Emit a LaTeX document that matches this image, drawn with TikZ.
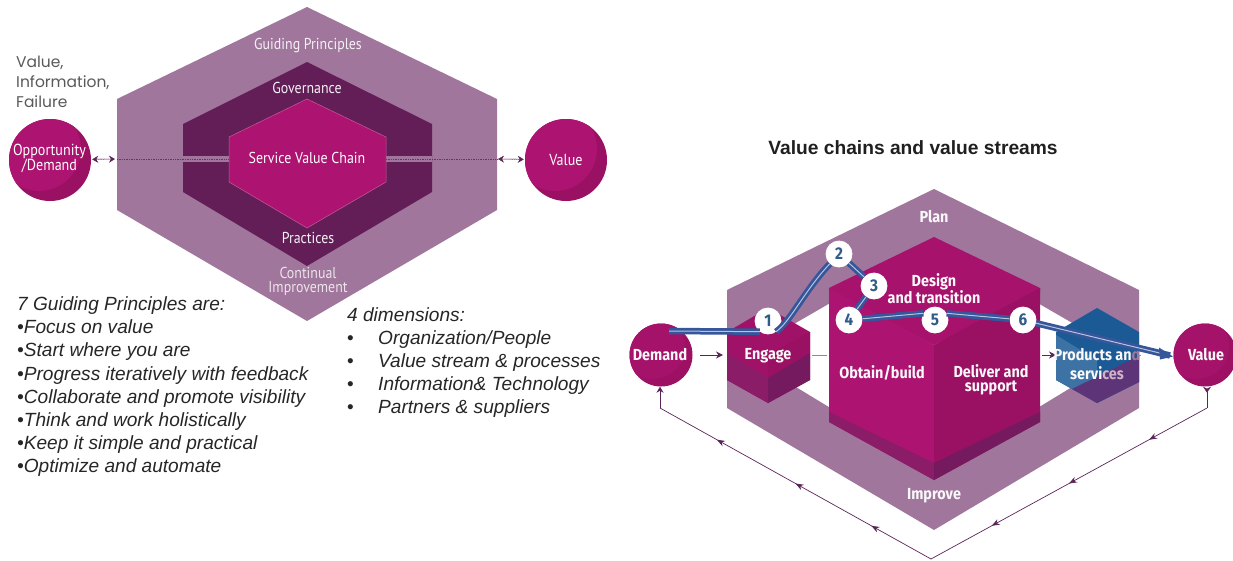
\documentclass[tikz,border=0pt]{standalone}
\usepackage{fontspec}
\setmainfont{Liberation Sans}
\newfontfamily\hexf[FakeStretch=0.88]{PT Sans}
\newfontfamily\grayf{Poppins}
\newfontfamily\boldf[FakeStretch=0.9]{Fira Sans}
\usetikzlibrary{arrows.meta,decorations.markings}
\definecolor{ring}{HTML}{A0769C}
\definecolor{midhex}{HTML}{631E58}
\definecolor{magenta1}{HTML}{AD1370}
\definecolor{magenta2}{HTML}{9A1062}
\definecolor{band1}{HTML}{8A1C68}
\definecolor{band2}{HTML}{761A60}
\definecolor{arrowc}{HTML}{5A2458}
\definecolor{pathblue}{HTML}{35569A}
\definecolor{numblue}{HTML}{2F5C88}
\definecolor{prodblue}{HTML}{1B5A94}
\definecolor{prodpurple}{HTML}{5E3478}
\tikzset{
  hexlabel/.style={text=white!90!ring,font=\hexf\fontsize{15.8}{12.5}\selectfont,align=center,inner sep=0pt},
  boldlabel/.style={text=white!95!ring,font=\boldf\bfseries\fontsize{16}{16}\selectfont,align=center,inner sep=0pt},
  listtext/.style={anchor=base west,inner sep=0pt,font=\itshape\fontsize{19.1}{19}\selectfont,text=black!85},
  bulletmark/.style={anchor=base west,inner sep=0pt,font=\fontsize{19}{19}\selectfont,text=black!85},
  bigcircle/.style={circle,inner sep=0pt,minimum size=#1,fill=magenta2,
    path picture={\fill[magenta1] (path picture bounding box.center) ++(-11,-11) circle (42pt);}},
  smallcircle/.style={circle,inner sep=0pt,minimum size=63pt,fill=magenta2!85!magenta1,
    path picture={\fill[magenta2!40!magenta1] (path picture bounding box.center) ++(-8,-8) circle (32pt);}},
  numcircle/.style={circle,draw=white,line width=0.8pt,fill=white,text=numblue,minimum size=26pt,inner sep=0pt,font=\boldf\bfseries\fontsize{17}{17}\selectfont},
  flowarrow/.style={draw=arrowc,line width=1pt,-{Stealth[length=7pt,width=7pt]}},
  dotband/.style={draw=ring!60!white,line width=1.2pt,densely dotted},
  feedback/.style={draw=arrowc,line width=0.7pt},
  bluepath/.style={draw=pathblue,line width=6.5pt},
  bluecore/.style={draw=white!65!pathblue,line width=1pt},
  biarrow/.style={draw=arrowc,line width=0.6pt,{Stealth[length=6pt,width=7pt]}-{Stealth[length=6pt,width=7pt]}},
}
\begin{document}
\begin{tikzpicture}[x=1pt,y=-1pt]
\useasboundingbox (0,0) rectangle (1233,560);
% ---------- Left diagram ----------
\fill[ring] (307,7) -- (497,99) -- (497,210) -- (307,321) -- (117,210) -- (117,99) -- cycle;
\fill[midhex] (307,62) -- (432,124) -- (432,192) -- (307,266) -- (183,192) -- (183,124) -- cycle;
\fill[ring] (183,155.5) rectangle (432,162);
\draw[fill=magenta1,draw=magenta1!70!white,line width=0.5pt] (307,99) -- (386,137) -- (386,182) -- (307,228) -- (229,182) -- (229,137) -- cycle;
\coordinate (hexL) at (117,159);
\coordinate (hexR) at (497,159);
\coordinate (innerL) at (229,159);
\coordinate (innerR) at (386,159);
\draw[arrowc!80!ring,line width=0.7pt,densely dotted] (hexL) -- (innerL);
\draw[arrowc!80!ring,line width=0.7pt,densely dotted] (innerR) -- (hexR);

\node[bigcircle=82pt] (opp) at (50,160) {};
\node[bigcircle=82pt] (val1) at (566,160) {};
\node[hexlabel,text=white,font=\hexf\fontsize{16}{15}\selectfont] (opplabel) at (49.5,158.5) {Opportunity\\/Demand};
\node[hexlabel,text=white,font=\hexf\fontsize{16}{15}\selectfont] (vallabel) at (566,160) {Value};
\draw[biarrow,shorten <=1pt,shorten >=2pt] (opp) -- (hexL);
\draw[biarrow,shorten <=1pt,shorten >=1pt] (hexR) -- (val1);
\draw[dotband,shorten <=6pt,shorten >=8pt] (opp) -- (hexL);
\draw[dotband,shorten <=7pt,shorten >=7pt] (hexR) -- (val1);

\node[hexlabel] (gp) at (308,46) {Guiding Principles};
\node[hexlabel] (gov) at (307,88) {Governance};
\node[hexlabel,text=white] (svc) at (307,158) {Service Value Chain};
\node[hexlabel] (prac) at (308,238) {Practices};
\node[hexlabel,text=white!80!ring,font=\hexf\fontsize{15.8}{13.5}\selectfont] (ci) at (308,281.5) {Continual\\Improvement};

\node[anchor=north west,inner sep=0pt,align=left,text=black!65,font=\grayf\fontsize{15.5}{20}\selectfont] (vif) at (16,56) {Value,\\Information,\\Failure};

\node[listtext] (g0) at (17,310) {7 Guiding Principles are:};
\node[listtext] (g1) at (17,333.5) {•Focus on value};
\node[listtext] (g2) at (17,356.5) {•Start where you are};
\node[listtext] (g3) at (17,380) {•Progress iteratively with feedback};
\node[listtext] (g4) at (17,403) {•Collaborate and promote visibility};
\node[listtext] (g5) at (17,426) {•Think and work holistically};
\node[listtext] (g6) at (17,449.5) {•Keep it simple and practical};
\node[listtext] (g7) at (17,472.5) {•Optimize and automate};

\node[listtext] (d0) at (347,321) {4 dimensions:};
\foreach \n/\yy/\t in {1/344/Organization\slash People,2/367.5/Value stream \& processes,3/390.5/Information\& Technology,4/413.5/Partners \& suppliers}{
  \node[bulletmark] (db\n) at (347,\yy) {•};
  \node[listtext] (d\n) at (378,\yy) {\t};
}

% ---------- Right diagram ----------
\node[inner sep=0pt,font=\bfseries\fontsize{19.2}{19}\selectfont,text=black!88] (title) at (913,147.5) {Value chains and value streams};

% ring with hole
\fill[ring,even odd rule] (934,189) -- (1139,290) -- (1139,408) -- (934,530) -- (727,408) -- (727,290) -- cycle
   (934,243) -- (1100,339) -- (1100,370) -- (934,471) -- (768,370) -- (768,339) -- cycle;

% Engage hexagon
\fill[magenta1!92!black] (768,308) -- (810,332) -- (810,380) -- (768,403) -- (727,380) -- (727,332) -- cycle;
\fill[magenta2] (768,355) -- (810,332) -- (810,353) -- (768,378) -- cycle;
\fill[band1] (727,353) -- (768,378) -- (768,403) -- (727,380) -- cycle;
\fill[band2] (810,353) -- (768,378) -- (768,403) -- (810,380) -- cycle;

% Products hexagon
\fill[prodblue] (1097,308) -- (1139,332) -- (1139,382) -- (1097,403) -- (1056,380) -- (1056,332) -- cycle;
\fill[prodblue!85!white] (1056,335) -- (1097,360) -- (1097,380) -- (1072,389) -- (1056,380) -- cycle;
\fill[prodpurple] (1139,356) -- (1072,389) -- (1097,403) -- (1139,382) -- cycle;

% Big box
\fill[magenta1!96!black] (934,237) -- (1040,288) -- (1040,293) -- (934,345) -- (829,293) -- (829,288) -- cycle;
\fill[magenta1] (829,288) -- (934,345) -- (934,480) -- (829,422) -- cycle;
\fill[magenta2] (1040,288) -- (934,345) -- (934,480) -- (1040,422) -- cycle;
\fill[band1] (829,412) -- (934,463) -- (934,480) -- (829,422) -- cycle;
\fill[band2] (1040,412) -- (934,463) -- (934,480) -- (1040,422) -- cycle;

% Circles
\node[smallcircle] (dem) at (661,355) {};
\node[smallcircle] (val2) at (1205,355) {};
\node[boldlabel] (demlabel) at (660,355) {Demand};
\node[boldlabel] (val2label) at (1206,355) {Value};

% Small connectors
\coordinate (engL) at (727,355);
\coordinate (engR) at (810,355);
\coordinate (boxL) at (829,355);
\coordinate (boxR) at (1040,355);
\coordinate (prodL) at (1056,355);
\coordinate (prodR) at (1139,355);
\draw[flowarrow,shorten <=7pt,shorten >=4pt] (dem) -- (engL);
\draw[draw=black!45,line width=0.9pt,shorten <=2pt,shorten >=2pt] (engR) -- (boxL);
\draw[flowarrow,shorten <=2pt] (boxR) -- (prodL);
\draw[draw=black!45,line width=0.9pt,shorten >=32pt] (prodR) -- (val2);

% Feedback loop
\coordinate (fbV1) at (1207,408);
\coordinate (fbB) at (931,559);
\coordinate (fbD1) at (660,408);
\draw[feedback,{Stealth[length=6pt,width=8pt,reversed]}-] (val2.south -| fbV1) -- (fbV1);
\draw[feedback,-{Stealth[length=6pt,width=7pt]}] (fbD1) -- (dem.south -| fbD1);
\draw[feedback,postaction={decorate},decoration={markings,
   mark=at position 0.21 with {\arrow{Stealth[length=8pt,width=6pt]}},
   mark=at position 0.50 with {\arrow{Stealth[length=8pt,width=6pt]}},
   mark=at position 0.78 with {\arrow{Stealth[length=8pt,width=6pt]}}}] (fbV1) -- (fbB);
\draw[feedback,postaction={decorate},decoration={markings,
   mark=at position 0.22 with {\arrow{Stealth[length=8pt,width=6pt]}},
   mark=at position 0.50 with {\arrow{Stealth[length=8pt,width=6pt]}},
   mark=at position 0.79 with {\arrow{Stealth[length=8pt,width=6pt]}}}] (fbB) -- (fbD1);

% Text on the box
\node[boldlabel] (plan) at (934,217) {Plan};
\node[boldlabel] (design) at (934,288.5) {Design\\and transition};
\node[boldlabel] (obtain) at (882,373) {Obtain/build};
\node[boldlabel,font=\boldf\bfseries\fontsize{16}{14.5}\selectfont] (deliver) at (991,380) {Deliver and\\support};
\node[boldlabel] (engage) at (768,355.5) {Engage};
\node[boldlabel,font=\boldf\bfseries\fontsize{16}{19}\selectfont] (prod) at (1097,364.5) {Products an{\color{ring}d}\\servi{\color{white!45!ring}ces}};
\node[boldlabel] (improve) at (934,496) {Improve};

% Blue value stream
\node[numcircle] (n1) at (768,321) {1};
\node[numcircle] (n2) at (839,254) {2};
\node[numcircle] (n3) at (874,286) {3};
\node[numcircle] (n4) at (849,320) {4};
\node[numcircle] (n5) at (935,320) {5};
\node[numcircle] (n6) at (1023,320) {6};
\coordinate (pstart) at (669,331);
\coordinate (pend) at (1170,355.5);
\foreach \sty in {bluepath,bluecore}{
  \draw[\sty,line join=round] (pstart) -- (n1.233);
  \draw[\sty,line join=round] (n1.307) .. controls (790,322) and (805,290) .. (n2);
  \draw[\sty] (n2) -- (n3);
  \draw[\sty] (n3) -- (n4);
  \draw[\sty] (n4) -- (n5.150);
  \draw[\sty] (n5.30) -- (n6);
  \draw[\sty] (n6) -- (pend);
}
\fill[pathblue] (pend) ++(3,1) -- ++(-14,-9) -- ++(1,12) -- cycle;
\end{tikzpicture}
\end{document}
